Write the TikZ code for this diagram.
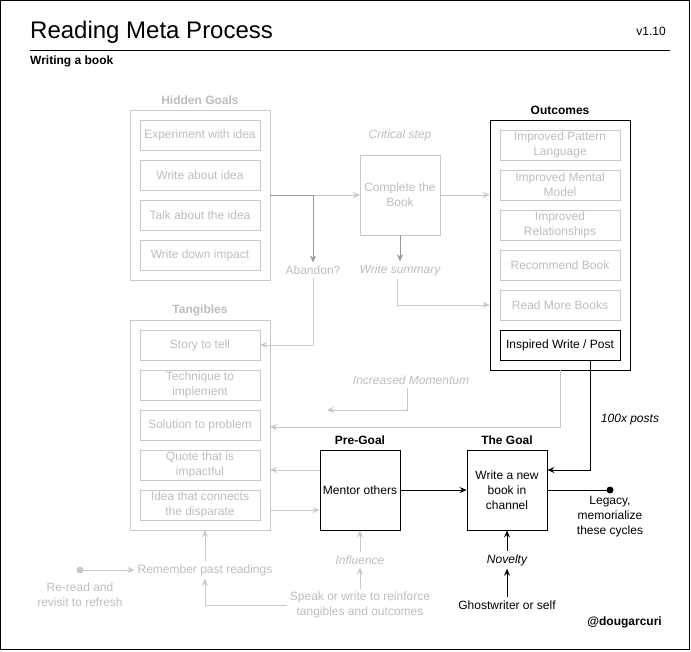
\documentclass[tikz,border=0pt]{standalone}
\usepackage{fontspec}
\setmainfont{Liberation Sans}
\usetikzlibrary{arrows.meta,calc}
\definecolor{lg}{HTML}{C8C8C8}
\definecolor{lt}{HTML}{BDBDBD}
\definecolor{dg}{HTML}{999999}
\tikzset{
  f12/.style={font=\fontsize{12}{15}\selectfont},
  gbox/.style={f12,draw=lg,text=lt,minimum width=120pt,minimum height=30pt,inner sep=0pt,align=center},
  gcont/.style={draw=lg,minimum width=140pt,inner sep=0pt},
  sq/.style={f12,draw=black,line width=0.9pt,minimum width=80pt,minimum height=80pt,inner sep=0pt,align=center},
  lbl/.style={f12,inner sep=3pt,align=center},
  glbl/.style={lbl,text=lt},
  head/.style={font=\fontsize{12}{15}\selectfont\bfseries,inner sep=0pt},
  garr/.style={draw=lg,-{Stealth[length=7pt,width=6pt,inset=2.5pt]}},
  darr/.style={draw=dg,-{Stealth[length=7pt,width=6pt,inset=2.5pt]}},
  barr/.style={draw=black,line width=0.9pt,-{Stealth[length=7pt,width=6pt,inset=2.5pt]}},
}
\begin{document}
\begin{tikzpicture}[x=1pt,y=-1pt]
\useasboundingbox (0,0) rectangle (691,651);
\draw[line width=1.2pt] (0.8,0.8) rectangle (689.5,649.5);
% header
\node[anchor=base west,inner sep=0pt,font=\fontsize{24}{28}\selectfont] (title) at (30,38) {Reading Meta Process};
\node[anchor=base east,inner sep=0pt,f12] (ver) at (666,35) {v1.10};
\draw[line width=0.9pt] (30,50) -- (670,50);
\node[anchor=base west,head] (sub) at (30,64) {Writing a book};
% Hidden goals
\node[head,text=lt] (hgt) at (200,100) {Hidden Goals};
\node[gcont,minimum height=170pt] (hg) at (200,195) {};
\node[gbox] (hg1) at (200,135) {Experiment with idea};
\node[gbox] (hg2) at (200,175) {Write about idea};
\node[gbox] (hg3) at (200,215) {Talk about the idea};
\node[gbox] (hg4) at (200,255) {Write down impact};
% Tangibles
\node[head,text=lt] (tgt) at (200,310) {Tangibles};
\node[gcont,minimum height=210pt] (tg) at (200,425) {};
\node[gbox] (tg1) at (200,345) {Story to tell};
\node[gbox] (tg2) at (200,385) {Technique to\\implement};
\node[gbox] (tg3) at (200,425) {Solution to problem};
\node[gbox] (tg4) at (200,465) {Quote that is\\impactful};
\node[gbox] (tg5) at (200,505) {Idea that connects\\the disparate};
% Complete the book
\node[glbl,font=\fontsize{12}{15}\selectfont\itshape] (crit) at (400,135) {Critical step};
\node[gbox,minimum width=80pt,minimum height=80pt] (cb) at (400,195) {Complete the\\Book};
\node[glbl] (ab) at (313,270) {Abandon?};
\node[glbl,font=\fontsize{12}{15}\selectfont\itshape] (ws) at (400,270) {Write summary};
% Outcomes
\node[head] (outt) at (560,110) {Outcomes};
\node[draw=black,line width=0.9pt,minimum width=140pt,minimum height=250pt,inner sep=0pt] (out) at (560,245) {};
\node[gbox] (o1) at (560,145) {Improved Pattern\\Language};
\node[gbox] (o2) at (560,185) {Improved Mental\\Model};
\node[gbox] (o3) at (560,225) {Improved\\Relationships};
\node[gbox] (o4) at (560,265) {Recommend Book};
\node[gbox] (o5) at (560,305) {Read More Books};
\node[gbox,draw=black,text=black,line width=0.9pt] (o6) at (560,345) {Inspired Write / Post};
% momentum
\node[glbl,font=\fontsize{12}{15}\selectfont\itshape] (im) at (411,380) {Increased Momentum};
\coordinate (imend) at (327,410);
\node[lbl,font=\fontsize{12}{15}\selectfont\itshape] (posts) at (630,420) {100x posts};
% pre-goal and goal
\node[head] (pgt) at (360,440) {Pre-Goal};
\node[sq] (pg) at (360,490) {Mentor others};
\node[head] (gt) at (507,440) {The Goal};
\node[sq] (goal) at (507,490) {Write a new\\book in\\channel};
\fill (610,490) circle (3.5pt) coordinate (leg);
\node[lbl,anchor=north] (legt) at (610,493) {Legacy,\\memorialize\\these cycles};
\node[lbl,font=\fontsize{12}{15}\selectfont\itshape] (nov) at (507,560) {Novelty};
\node[lbl] (ghost) at (507,605) {Ghostwriter or self};
\node[anchor=base east,head] (handle) at (662,625) {@dougarcuri};
% bottom left
\node[glbl] (rem) at (205,570) {Remember past readings};
\fill[lg] (80,570) circle (3.5pt) coordinate (rr);
\node[glbl,anchor=north] (rrt) at (80,580) {Re-read and\\revisit to refresh};
\node[glbl,font=\fontsize{12}{15}\selectfont\itshape] (infl) at (360,560) {Influence};
\node[glbl] (speak) at (360,605) {Speak or write to reinforce\\tangibles and outcomes};
% connectors
\draw[garr] (hg.east |- cb.west) -- (cb.west);
\draw[darr] (hg.east |- cb.west) -| (ab.north);
\draw[garr] (ab.south) |- (tg1.east);
\draw[garr] (cb.east) -- (cb.east -| out.west);
\draw[darr] (cb.south) -- (ws.north);
\draw[garr] ($(ws.south)+(-3,0)$) |- (o5 -| out.west);
\draw[garr] (out.south) |- ($(tg.east)+(0,2)$);
\draw[garr] ($(im.south)+(-4,0)$) |- (imend);
\draw[barr] ($(o6.south)+(30,0)$) |- ($(goal.east)+(0,-20)$);
\draw[line width=0.9pt] (goal.east) -- (leg);
\draw[barr] (pg.east) -- (goal.west);
\draw[garr] ($(pg.west)+(0,-20)$) -- ($(tg.east)+(0,45)$);
\draw[garr] ($(tg.east)+(0,85)$) -- ($(pg.west)+(0,20)$);
\draw[garr] (rem.north) -- (rem.north |- tg.south);
\draw[garr] (rr) -- (rem.west);
\draw[garr] (speak.west) -| (rem.south);
\draw[garr] (speak.north) -- (infl.south);
\draw[garr] (infl.north) -- (pg.south);
\draw[barr] (nov.north) -- (goal.south);
\draw[barr] (ghost.north) -- (nov.south);
\end{tikzpicture}
\end{document}
